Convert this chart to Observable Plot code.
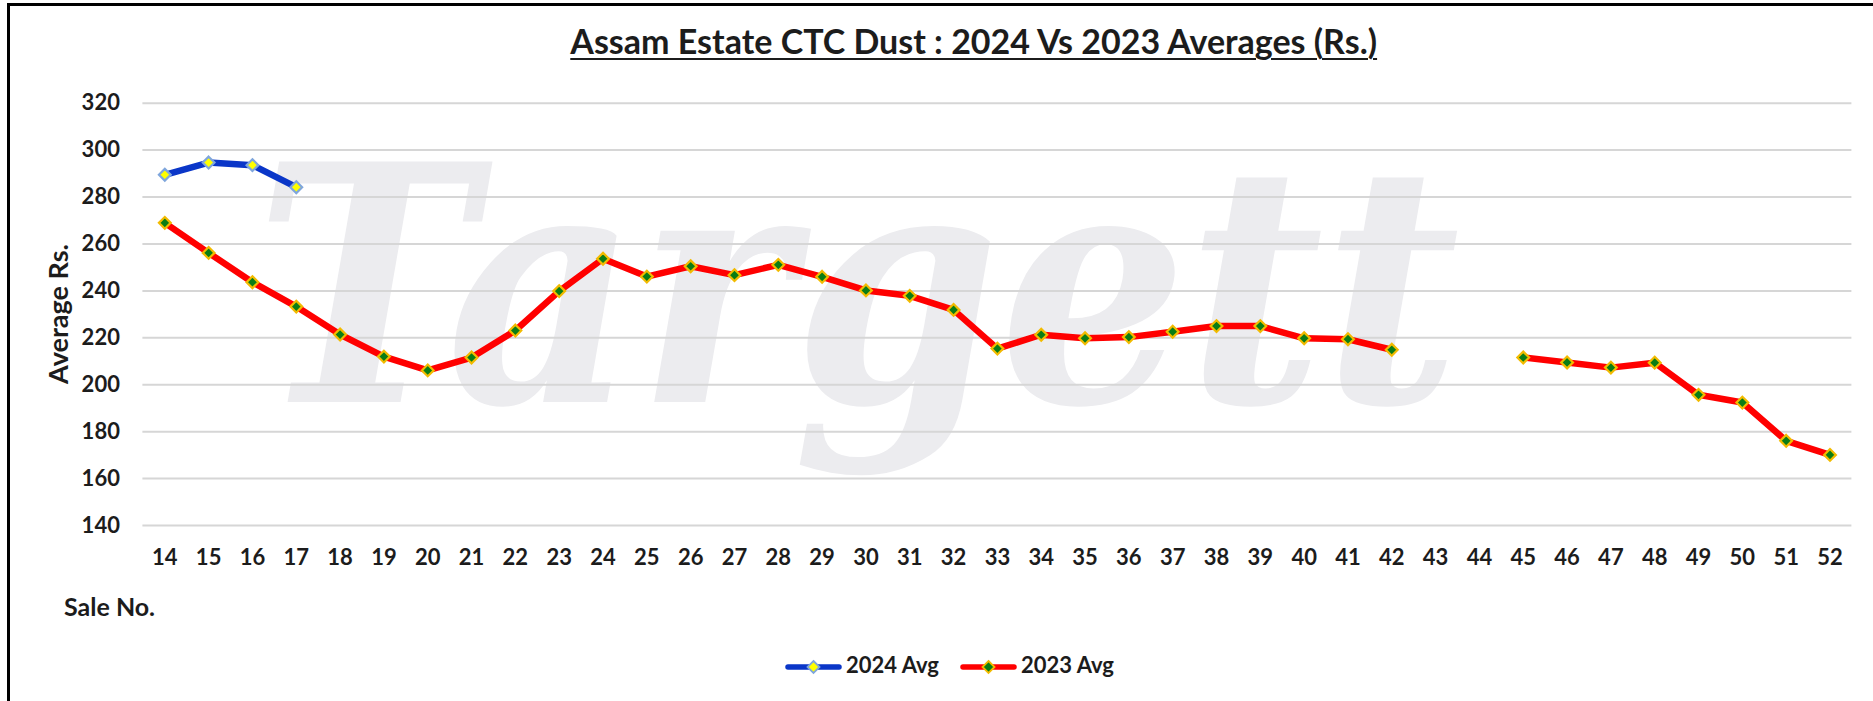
<!DOCTYPE html>
<html>
<head>
<meta charset="utf-8">
<script src="https://cdn.jsdelivr.net/npm/d3@7"></script>
<script src="https://cdn.jsdelivr.net/npm/@observablehq/plot@0.6"></script>
<style>
  html, body { margin: 0; padding: 0; background: #fff; }
  #wrap { position: relative; width: 1873px; height: 701px; overflow: hidden; background: #fff;
          font-family: Lato, "Open Sans", sans-serif; font-weight: 700; color: #1c1c1c; }
  .abs { position: absolute; white-space: nowrap; line-height: 1.2; }
  #wm, #chart { position: absolute; left: 0; top: 0; }
  #title { font-size: 34px; top: 21.4px; left: 973.7px; transform: translateX(-50%);
           text-decoration: underline; text-decoration-thickness: 2px; text-underline-offset: 4px; }
  #ylab { font-size: 27px; left: 57.8px; top: 314px; transform: translate(-50%, -50%) rotate(-90deg); }
  #xlab { font-size: 25px; left: 64px; top: 590.5px; }
  .legtxt { font-size: 22px; top: 652.2px; }
  .sw { position: absolute; top: 659px; }
  #frame { position: absolute; left: 7px; top: 3px; right: -10px; bottom: -10px;
           border-left: 3px solid #000; border-top: 3px solid #000; }
</style>
</head>
<body>
<div id="wrap">
  <svg id="wm" width="1873" height="701">
    <text x="255" y="402" font-family="DejaVu Serif" font-style="italic" font-weight="bold"
          font-size="330" fill="#ececef" textLength="1205" lengthAdjust="spacingAndGlyphs">Targett</text>
  </svg>
  <div id="chart"></div>
  <div id="title" class="abs"></div>
  <div id="ylab" class="abs"></div>
  <div id="xlab" class="abs"></div>
  <div id="legend"></div>
  <div id="frame"></div>
</div>
<script>
// ---- data ----
const titleText = "Assam Estate CTC Dust : 2024 Vs 2023 Averages (Rs.)";
const yTitle = "Average Rs.";
const xTitle = "Sale No.";
const seriesNames = ["2024 Avg", "2023 Avg"];
const saleNos = [14,15,16,17,18,19,20,21,22,23,24,25,26,27,28,29,30,31,32,33,34,35,36,37,38,39,40,41,42,43,44,45,46,47,48,49,50,51,52];
const avg2024 = [289.5, 294.7, 293.6, 284.2];
const avg2023 = [269.0, 256.2, 243.7, 233.3, 221.4, 212.0, 206.1, 211.6, 223.1, 239.9,
                 253.7, 246.1, 250.5, 246.7, 251.1, 246.0, 240.2, 237.9, 231.9, 215.4,
                 221.3, 219.8, 220.3, 222.6, 225.0, 225.0, 219.8, 219.4, 214.9, null,
                 null, 211.6, 209.5, 207.3, 209.4, 195.7, 192.4, 176.1, 170.1];
const yTicks = [140, 160, 180, 200, 220, 240, 260, 280, 300, 320];

// ---- styles ----
const col2024 = {line: "#0a36c8", fill: "#ffff00", stroke: "#7fa6dc"};
const col2023 = {line: "#ff0000", fill: "#0a7d14", stroke: "#f2bb00"};

const rows2023 = saleNos.map((s, i) => ({sale: s, v: avg2023[i]}));
const rows2024 = avg2024.map((v, i) => ({sale: saleNos[i], v}));

const chart = Plot.plot({
  width: 1873,
  height: 701,
  marginLeft: 142.4,
  marginRight: 21.6,
  marginTop: 102.7,
  marginBottom: 176,
  style: {background: "transparent", fontFamily: "Lato, 'Open Sans', sans-serif", fontSize: "22px", fontWeight: 700, color: "#1c1c1c"},
  x: {type: "point", domain: saleNos, padding: 0.5, label: null},
  y: {domain: [140, 320], label: null},
  marks: [
    Plot.gridY(yTicks, {stroke: "#d6d6d6", strokeOpacity: 1, strokeWidth: 2}),
    Plot.axisY(yTicks, {tickSize: 0, tickPadding: 23, label: null, fill: "#1c1c1c"}),
    Plot.axisX(saleNos, {tickSize: 0, tickPadding: 24, label: null, fill: "#1c1c1c"}),
    Plot.line(rows2023, {x: "sale", y: "v", stroke: col2023.line, strokeWidth: 6.5, strokeLinejoin: "round", strokeLinecap: "round"}),
    Plot.line(rows2024, {x: "sale", y: "v", stroke: col2024.line, strokeWidth: 6.5, strokeLinejoin: "round", strokeLinecap: "round"}),
    Plot.dot(rows2023, {x: "sale", y: "v", symbol: "diamond2", r: 5.3, fill: col2023.fill, stroke: col2023.stroke, strokeWidth: 2.2}),
    Plot.dot(rows2024, {x: "sale", y: "v", symbol: "diamond2", r: 5.3, fill: col2024.fill, stroke: col2024.stroke, strokeWidth: 2.2})
  ]
});
document.getElementById("chart").appendChild(chart);

document.getElementById("title").textContent = titleText;
document.getElementById("ylab").textContent = yTitle;
document.getElementById("xlab").textContent = xTitle;

// legend
const legend = document.getElementById("legend");
const legendItems = [
  {name: seriesNames[0], c: col2024, swX: 785, txX: 846},
  {name: seriesNames[1], c: col2023, swX: 960, txX: 1021}
];
for (const it of legendItems) {
  const sw = document.createElement("div");
  sw.className = "sw";
  sw.style.left = it.swX + "px";
  sw.innerHTML = `<svg width="57" height="16"><line x1="3" y1="8" x2="54" y2="8" stroke="${it.c.line}" stroke-width="5.5" stroke-linecap="round"/>` +
    `<path d="M28.5,2L34.5,8L28.5,14L22.5,8Z" fill="${it.c.fill}" stroke="${it.c.stroke}" stroke-width="1.8"/></svg>`;
  legend.appendChild(sw);
  const tx = document.createElement("div");
  tx.className = "abs legtxt";
  tx.style.left = it.txX + "px";
  tx.textContent = it.name;
  legend.appendChild(tx);
}
</script>
</body>
</html>
